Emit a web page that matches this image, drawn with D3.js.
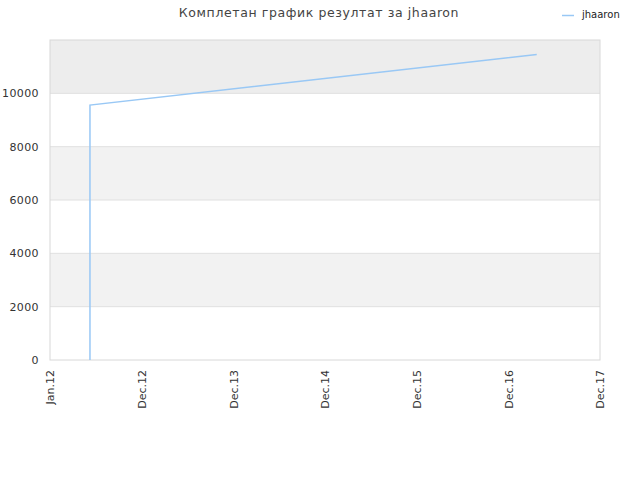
<!DOCTYPE html>
<html>
<head>
<meta charset="utf-8">
<script src="https://cdn.jsdelivr.net/npm/d3@7"></script>
<style>
  body { margin: 0; background: #fff; }
  text { font-family: "DejaVu Sans", sans-serif; }
</style>
</head>
<body>
<script>
// x positions are in "tick units" (0 = Jan.12, 1 = Dec.12, ...)
var xLabels = ["Jan.12", "Dec.12", "Dec.13", "Dec.14", "Dec.15", "Dec.16", "Dec.17"];
var seriesX = [0.436, 0.436, 5.31];
var seriesY = [0, 9560, 11460];
var yTicks = [0, 2000, 4000, 6000, 8000, 10000];
var seriesName = "jhaaron";
var title = "Комплетан график резултат за jhaaron";

var data = seriesX.map(function(x, i) { return {x: x, y: seriesY[i]}; });

var margin = {top: 40, right: 40, bottom: 120, left: 50},
    width = 640 - margin.left - margin.right,
    height = 480 - margin.top - margin.bottom;

var svg = d3.select("body").append("svg")
    .attr("width", 640)
    .attr("height", 480);

var g = svg.append("g")
    .attr("transform", "translate(" + margin.left + "," + margin.top + ")");

var xscale = d3.scaleLinear().domain([0, xLabels.length - 1]).range([0, width]);
var yscale = d3.scaleLinear().domain([0, 12000]).range([height, 0]);

// alternating bands
var bands = [0, 2000, 4000, 6000, 8000, 10000];
g.selectAll("rect.band")
    .data(bands)
    .enter().append("rect")
    .attr("class", "band")
    .attr("x", 0)
    .attr("width", width)
    .attr("y", function(d) { return yscale(d + 2000); })
    .attr("height", function(d) { return yscale(d) - yscale(d + 2000); })
    .attr("fill", function(d, i) { return i == 5 ? "#ededed" : (i % 2 ? "#f2f2f2" : "#ffffff"); });

// grid lines
g.selectAll("line.grid")
    .data(yTicks.slice(1))
    .enter().append("line")
    .attr("x1", 0).attr("x2", width)
    .attr("y1", function(d) { return yscale(d); })
    .attr("y2", function(d) { return yscale(d); })
    .attr("stroke", "#e0e0e0");

// frame
g.append("rect")
    .attr("width", width).attr("height", height)
    .attr("fill", "none")
    .attr("stroke", "#d8d8d8");

var yAxis = d3.axisLeft(yscale).tickValues(yTicks).tickFormat(d3.format("d")).tickSize(0).tickPadding(11);
var ya = g.append("g").call(yAxis);
ya.select(".domain").remove();
ya.selectAll("text").attr("fill", "#333").style("font-size", "11px").style("letter-spacing", "0.4px");

var xAxis = d3.axisBottom(xscale)
    .tickValues(d3.range(xLabels.length))
    .tickFormat(function(d) { return xLabels[d]; })
    .tickSize(0);
var xa = g.append("g")
    .attr("transform", "translate(0," + height + ")")
    .call(xAxis);
xa.select(".domain").remove();
xa.selectAll("text")
    .attr("fill", "#333")
    .style("font-size", "11px")
    .attr("text-anchor", "end")
    .attr("dy", "0.35em")
    .attr("transform", "translate(0,10) rotate(-90)")
    .attr("x", -0).attr("y", 0);

var valueline = d3.line()
    .x(function(d) { return xscale(d.x); })
    .y(function(d) { return yscale(d.y); });

g.append("path")
    .datum(data)
    .attr("fill", "none")
    .attr("stroke", "#99c8f5")
    .attr("stroke-width", 1.5)
    .attr("d", valueline);

// title
svg.append("text")
    .attr("x", 319).attr("y", 17)
    .attr("text-anchor", "middle")
    .attr("fill", "#444")
    .style("font-size", "12.5px")
    .style("letter-spacing", "0.6px")
    .text(title);

// legend
svg.append("line")
    .attr("x1", 562).attr("x2", 574)
    .attr("y1", 15.5).attr("y2", 15.5)
    .attr("stroke", "#99c8f5").attr("stroke-width", 1.5);
svg.append("text")
    .attr("x", 582).attr("y", 18)
    .attr("fill", "#222")
    .style("font-size", "10px")
    .text(seriesName);
</script>
</body>
</html>
